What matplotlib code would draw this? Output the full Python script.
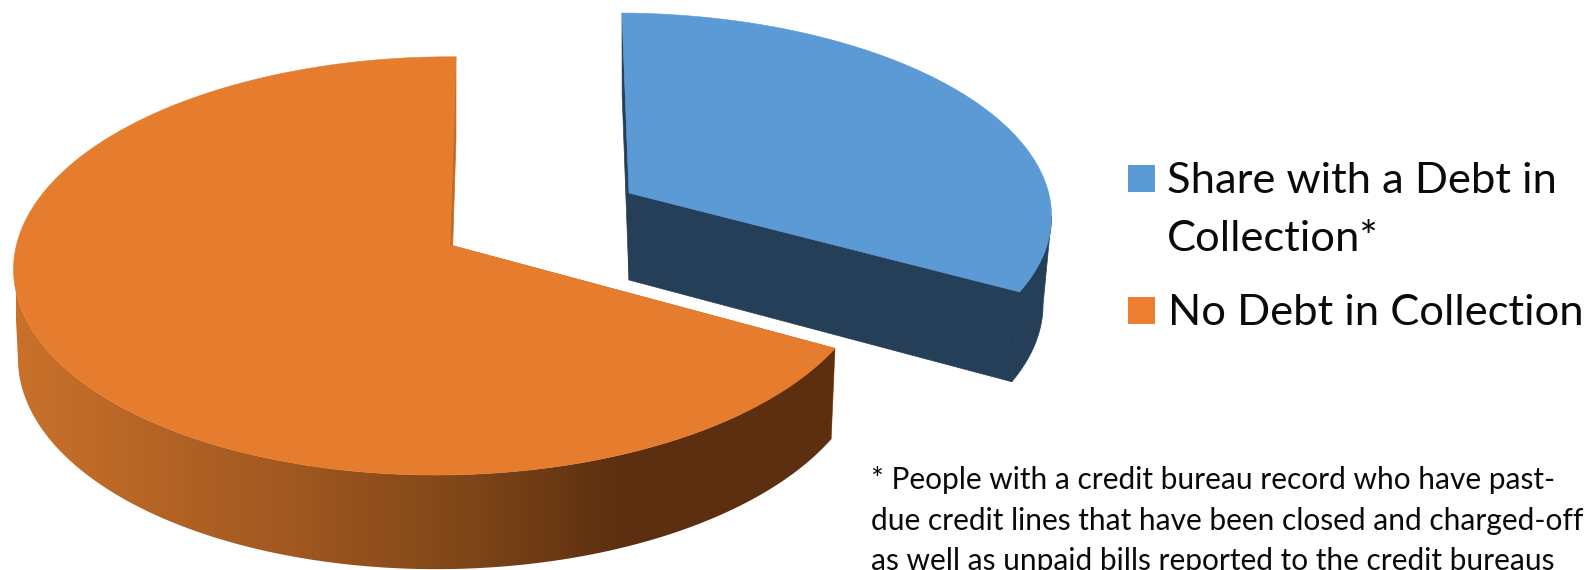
import numpy as np
import matplotlib
matplotlib.use("Agg")
import matplotlib.pyplot as plt
from matplotlib.colors import LinearSegmentedColormap
from matplotlib.patches import Polygon, Rectangle

# Chart data
categories = ["Share with a Debt in\nCollection*", "No Debt in Collection"]
shares = [33, 67]
footnote_lines = [
    "* People with a credit bureau record who have past-",
    "due credit lines that have been closed and charged-off",
    "as well as unpaid bills reported to the credit bureaus",
]

# Colours
BLUE_FACE = "#5b9ad5"
BLUE_WALL = "#253f59"
ORANGE_FACE = "#e67c2e"
ORANGE_WALL = "#c46a24"
LEGEND_COLORS = ["#5b9bd5", "#ed7d31"]
orange_side = LinearSegmentedColormap.from_list(
    "orange_side",
    [(0.0, "#c9712b"), (0.347, "#9f5720"), (0.561, "#7d4518"), (0.738, "#5c2f10"), (1.0, "#5c2f10")],
)

# Perspective parameters of each slice: apex, half-widths and wall geometry
P_TILT, Q_TILT, P_DEPTH = 0.10, 0.0143, 0.065
ORANGE_GEOM = dict(apex=(450, 245), a=427.3, k=207, skew=6.6, depth=88, shrink=0.99)
BLUE_GEOM = dict(apex=(629, 193), a=425.6, k=198, skew=-7.7, depth=87, shrink=0.98)

fig = plt.figure(figsize=(15.84, 5.70), dpi=100)
ax = fig.add_axes([0, 0, 1, 1])


def project(theta, geom):
    """Map a clockwise-from-top angle on the unit disc to the tilted top face."""
    X, Y = np.sin(theta), np.cos(theta)
    w = 1 + P_TILT * Y + Q_TILT * X
    x0, y0 = geom["apex"]
    return x0 + (geom["a"] * X + geom["skew"] * Y) / w, y0 - geom["k"] * Y / w


def lower(x, y, theta, geom):
    """Drop a point of the top face to the bottom rim; nearer points drop further."""
    x0 = geom["apex"][0]
    return x0 + (x - x0) * geom["shrink"], y + geom["depth"] / (1 + P_DEPTH * np.cos(theta))


def draw_slice(start, stop, geom, face, wall, gradient=None):
    thetas = np.linspace(start, stop, 721)
    x, y = project(thetas, geom)
    xl, yl = lower(x, y, thetas, geom)
    apex = np.array(geom["apex"], float)
    apex_low = np.array([apex[0], apex[1] + geom["depth"]])

    # Flat walls along both straight cuts
    for i in (0, -1):
        ax.add_patch(Polygon(
            [apex, (x[i], y[i]), (xl[i], yl[i]), apex_low],
            closed=True, fc=wall, ec=wall, lw=0.5, zorder=1,
        ))

    # Outer rim: only the stretch facing the viewer, where x runs right to left
    front = np.gradient(x) < 0
    rim = np.vstack([
        np.column_stack([x[front], y[front]]),
        np.column_stack([xl[front], yl[front]])[::-1],
    ])
    if gradient is None:
        ax.add_patch(Polygon(rim, closed=True, fc=wall, ec=wall, lw=0.5, zorder=2))
    else:
        outline = Polygon(rim, closed=True, fc="none", ec="none", zorder=2)
        ax.add_patch(outline)
        ramp = np.linspace(0, 1, 820).reshape(1, -1)
        band = ax.imshow(
            ramp, cmap=gradient, extent=(16, 835, 570, 0),
            aspect="auto", zorder=2, interpolation="bilinear",
        )
        band.set_clip_path(outline)

    # Top face
    ax.add_patch(Polygon(
        np.vstack([apex, np.column_stack([x, y])]),
        closed=True, fc=face, ec=face, lw=0.4, zorder=3,
    ))


split = 2 * np.pi * shares[0] / sum(shares)
draw_slice(split, 2 * np.pi, ORANGE_GEOM, ORANGE_FACE, ORANGE_WALL, gradient=orange_side)
draw_slice(0, split, BLUE_GEOM, BLUE_FACE, BLUE_WALL)

# Legend
FONT = "Lato"
LEGEND_PT = 31.3
TEXT_COLOR = "#0a0a0a"
ax.add_patch(Rectangle((1128, 165), 27, 27, fc=LEGEND_COLORS[0], ec="none", zorder=4))
ax.add_patch(Rectangle((1128, 297), 27, 27, fc=LEGEND_COLORS[1], ec="none", zorder=4))
first, second = categories[0].split("\n")
ax.text(1167, 193, first, family=FONT, fontsize=LEGEND_PT, va="baseline", color=TEXT_COLOR)
ax.text(1167, 251, second, family=FONT, fontsize=LEGEND_PT, va="baseline", color=TEXT_COLOR)
ax.text(1168, 325, categories[1], family=FONT, fontsize=LEGEND_PT, va="baseline", color=TEXT_COLOR)

# Footnote
for line, base in zip(footnote_lines, (489, 530, 570)):
    ax.text(871, base, line, family=FONT, fontsize=21.5, va="baseline", color=TEXT_COLOR, clip_on=True)

ax.set_xlim(0, 1584)
ax.set_ylim(570, 0)
ax.axis("off")

fig.savefig("out.png", dpi=100, facecolor="white")
